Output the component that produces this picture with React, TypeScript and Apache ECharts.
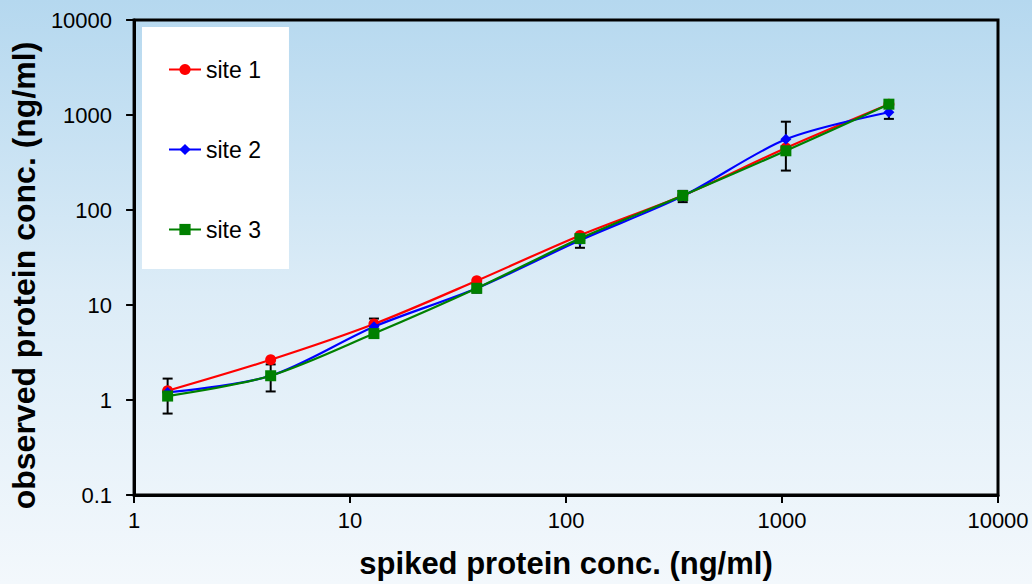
import React, { useEffect, useRef } from "react";
import * as echarts from "echarts";

const spiked = [1.43, 4.29, 12.9, 38.6, 116, 347, 1042, 3125];
const site1 = [1.25, 2.65, 6.3, 18, 54, 142, 450, 1300];
const site2 = [1.2, 1.8, 5.9, 15, 48, 140, 555, 1070];
const site3 = [1.1, 1.8, 5.0, 15, 50, 142, 420, 1300];
const site2Err = [0.48, 0.57, 1.3, 1.5, 8, 19, 295, 160];
const seriesNames = ["site 1", "site 2", "site 3"];

const FONT = "Liberation Sans, Arial, sans-serif";

const fmt = (v: number) => String(parseFloat(v.toPrecision(6)));

export default function App() {
  const ref = useRef<HTMLDivElement>(null);
  useEffect(() => {
    if (!ref.current) return;
    const chart = echarts.init(ref.current, undefined, { renderer: "svg" });
    const pts = (ys: number[]) => spiked.map((x, i) => [x, ys[i]]);
    const errData = spiked.map((x, i) => [x, site2[i] - site2Err[i], site2[i] + site2Err[i]]);
    chart.setOption({
      animation: false,
      backgroundColor: {
        type: "linear",
        x: 0, y: 0, x2: 0, y2: 1,
        colorStops: [
          { offset: 0, color: "#b5d8ef" },
          { offset: 0.5, color: "#dcecf7" },
          { offset: 1, color: "#f3f8fc" },
        ],
      },
      textStyle: { fontFamily: FONT },
      grid: {
        left: 134, right: 34, top: 20, bottom: 87,
        show: true, borderColor: "#000", borderWidth: 3, backgroundColor: "transparent",
      },
      legend: {
        left: 142, top: 27,
        orient: "vertical",
        backgroundColor: "#ffffff",
        padding: [31, 28, 28, 26],
        itemGap: 57,
        itemWidth: 32, itemHeight: 14,
        textStyle: { fontSize: 23, color: "#000", fontFamily: FONT },
        data: seriesNames,
      },
      xAxis: {
        type: "log", logBase: 10, min: 1, max: 10000,
        name: "spiked protein conc. (ng/ml)",
        nameLocation: "middle", nameGap: 53,
        nameTextStyle: { fontSize: 31, fontWeight: "bold", color: "#000", fontFamily: FONT },
        axisLine: { lineStyle: { color: "#000", width: 3 } },
        axisTick: { show: true, inside: false, length: 8, lineStyle: { color: "#000", width: 2 } },
        minorTick: { show: false },
        splitLine: { show: false },
        axisLabel: { fontSize: 22, color: "#000", margin: 14, fontFamily: FONT, formatter: fmt },
      },
      yAxis: {
        type: "log", logBase: 10, min: 0.1, max: 10000,
        name: "observed protein conc. (ng/ml)",
        nameLocation: "middle", nameGap: 78,
        nameTextStyle: {
          fontSize: 32, fontWeight: "bold", color: "#000", fontFamily: FONT,
          padding: [0, 36, 0, 0],
        },
        axisLine: { lineStyle: { color: "#000", width: 3 } },
        axisTick: { show: true, inside: false, length: 8, lineStyle: { color: "#000", width: 2 } },
        splitLine: { show: false },
        axisLabel: { fontSize: 22, color: "#000", margin: 22, fontFamily: FONT, formatter: fmt },
      },
      series: [
        {
          type: "custom",
          name: "err",
          z: 1,
          data: errData,
          renderItem: (params: any, api: any) => {
            const x = api.value(0);
            const lo = api.coord([x, api.value(1)]);
            const hi = api.coord([x, api.value(2)]);
            const w = 5;
            const style = { stroke: "#000", lineWidth: 2 };
            return {
              type: "group",
              children: [
                { type: "line", shape: { x1: lo[0], y1: lo[1], x2: hi[0], y2: hi[1] }, style },
                { type: "line", shape: { x1: lo[0] - w, y1: lo[1], x2: lo[0] + w, y2: lo[1] }, style },
                { type: "line", shape: { x1: hi[0] - w, y1: hi[1], x2: hi[0] + w, y2: hi[1] }, style },
              ],
            };
          },
        },
        {
          type: "line", name: seriesNames[0], data: pts(site1), smooth: 0.3, z: 2,
          symbol: "circle", symbolSize: 11,
          lineStyle: { color: "#ff0000", width: 2.2 }, itemStyle: { color: "#ff0000" },
        },
        {
          type: "line", name: seriesNames[1], data: pts(site2), smooth: 0.3, z: 3,
          symbol: "diamond", symbolSize: 11,
          lineStyle: { color: "#0000ff", width: 2.2 }, itemStyle: { color: "#0000ff" },
        },
        {
          type: "line", name: seriesNames[2], data: pts(site3), smooth: 0.3, z: 4,
          symbol: "rect", symbolSize: 11,
          lineStyle: { color: "#008000", width: 2.2 }, itemStyle: { color: "#008000" },
        },
      ],
    });
    return () => chart.dispose();
  }, []);
  return (
    <div
      ref={ref}
      style={{ position: "fixed", left: 0, top: 0, width: 1032, height: 584 }}
    />
  );
}
